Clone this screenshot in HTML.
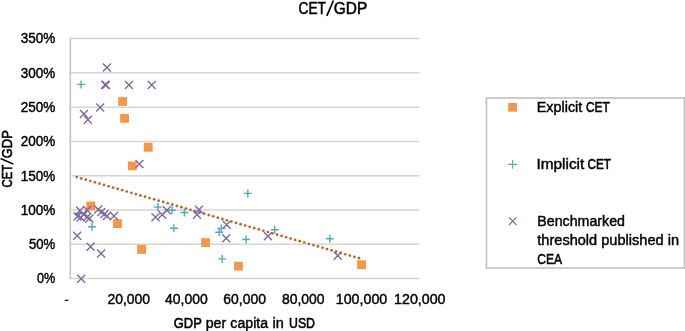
<!DOCTYPE html>
<html><head><meta charset="utf-8"><title>CET/GDP</title>
<style>
html,body{margin:0;padding:0;background:#fff;}
body{width:685px;height:331px;overflow:hidden;font-family:"Liberation Sans",sans-serif;}
svg{display:block;}
text{font-family:"Liberation Sans",sans-serif;fill:#000;stroke:#000;stroke-width:0.42px;}
svg{will-change:transform;}
</style></head><body>
<svg width="685" height="331" viewBox="0 0 685 331">
<rect x="0" y="0" width="685" height="331" fill="#ffffff"/>

<g stroke="#D6D6D6" stroke-width="1.5" fill="none">
<line x1="70.3" y1="38.60" x2="419.4" y2="38.60"/>
<line x1="70.3" y1="72.87" x2="419.4" y2="72.87"/>
<line x1="70.3" y1="107.14" x2="419.4" y2="107.14"/>
<line x1="70.3" y1="141.41" x2="419.4" y2="141.41"/>
<line x1="70.3" y1="175.69" x2="419.4" y2="175.69"/>
<line x1="70.3" y1="209.96" x2="419.4" y2="209.96"/>
<line x1="70.3" y1="244.23" x2="419.4" y2="244.23"/>
<line x1="70.3" y1="278.50" x2="419.4" y2="278.50"/>
</g>
<line x1="70.3" y1="37.85" x2="70.3" y2="279.25" stroke="#C4C4C4" stroke-width="1.6"/>
<g fill="#F79646">
<rect x="118.20" y="97.10" width="8.8" height="8.8"/>
<rect x="120.20" y="113.90" width="8.8" height="8.8"/>
<rect x="143.80" y="142.90" width="8.8" height="8.8"/>
<rect x="128.00" y="161.50" width="8.8" height="8.8"/>
<rect x="86.30" y="201.60" width="8.8" height="8.8"/>
<rect x="113.10" y="219.20" width="8.8" height="8.8"/>
<rect x="137.20" y="245.00" width="8.8" height="8.8"/>
<rect x="201.20" y="238.20" width="8.8" height="8.8"/>
<rect x="234.10" y="261.80" width="8.8" height="8.8"/>
<rect x="357.20" y="260.30" width="8.8" height="8.8"/>
</g>
<g fill="#C0601A">
<circle cx="76.70" cy="177.10" r="1.35"/>
<circle cx="81.25" cy="178.41" r="1.35"/>
<circle cx="85.80" cy="179.72" r="1.35"/>
<circle cx="90.36" cy="181.02" r="1.35"/>
<circle cx="94.91" cy="182.33" r="1.35"/>
<circle cx="99.46" cy="183.64" r="1.35"/>
<circle cx="104.01" cy="184.95" r="1.35"/>
<circle cx="108.56" cy="186.26" r="1.35"/>
<circle cx="113.12" cy="187.56" r="1.35"/>
<circle cx="117.67" cy="188.87" r="1.35"/>
<circle cx="122.22" cy="190.18" r="1.35"/>
<circle cx="126.77" cy="191.49" r="1.35"/>
<circle cx="131.32" cy="192.80" r="1.35"/>
<circle cx="135.88" cy="194.10" r="1.35"/>
<circle cx="140.43" cy="195.41" r="1.35"/>
<circle cx="144.98" cy="196.72" r="1.35"/>
<circle cx="149.53" cy="198.03" r="1.35"/>
<circle cx="154.08" cy="199.34" r="1.35"/>
<circle cx="158.64" cy="200.64" r="1.35"/>
<circle cx="163.19" cy="201.95" r="1.35"/>
<circle cx="167.74" cy="203.26" r="1.35"/>
<circle cx="172.29" cy="204.57" r="1.35"/>
<circle cx="176.84" cy="205.88" r="1.35"/>
<circle cx="181.40" cy="207.18" r="1.35"/>
<circle cx="185.95" cy="208.49" r="1.35"/>
<circle cx="190.50" cy="209.80" r="1.35"/>
<circle cx="195.05" cy="211.11" r="1.35"/>
<circle cx="199.60" cy="212.42" r="1.35"/>
<circle cx="204.16" cy="213.72" r="1.35"/>
<circle cx="208.71" cy="215.03" r="1.35"/>
<circle cx="213.26" cy="216.34" r="1.35"/>
<circle cx="217.81" cy="217.65" r="1.35"/>
<circle cx="222.36" cy="218.96" r="1.35"/>
<circle cx="226.92" cy="220.26" r="1.35"/>
<circle cx="231.47" cy="221.57" r="1.35"/>
<circle cx="236.02" cy="222.88" r="1.35"/>
<circle cx="240.57" cy="224.19" r="1.35"/>
<circle cx="245.12" cy="225.50" r="1.35"/>
<circle cx="249.68" cy="226.80" r="1.35"/>
<circle cx="254.23" cy="228.11" r="1.35"/>
<circle cx="258.78" cy="229.42" r="1.35"/>
<circle cx="263.33" cy="230.73" r="1.35"/>
<circle cx="267.88" cy="232.04" r="1.35"/>
<circle cx="272.44" cy="233.34" r="1.35"/>
<circle cx="276.99" cy="234.65" r="1.35"/>
<circle cx="281.54" cy="235.96" r="1.35"/>
<circle cx="286.09" cy="237.27" r="1.35"/>
<circle cx="290.64" cy="238.58" r="1.35"/>
<circle cx="295.20" cy="239.88" r="1.35"/>
<circle cx="299.75" cy="241.19" r="1.35"/>
<circle cx="304.30" cy="242.50" r="1.35"/>
<circle cx="308.85" cy="243.81" r="1.35"/>
<circle cx="313.40" cy="245.12" r="1.35"/>
<circle cx="317.96" cy="246.42" r="1.35"/>
<circle cx="322.51" cy="247.73" r="1.35"/>
<circle cx="327.06" cy="249.04" r="1.35"/>
<circle cx="331.61" cy="250.35" r="1.35"/>
<circle cx="336.16" cy="251.66" r="1.35"/>
<circle cx="340.72" cy="252.96" r="1.35"/>
<circle cx="345.27" cy="254.27" r="1.35"/>
<circle cx="349.82" cy="255.58" r="1.35"/>
<circle cx="354.37" cy="256.89" r="1.35"/>
<circle cx="358.92" cy="258.20" r="1.35"/>
</g>
<g stroke="#4BACC6" stroke-width="1.4" fill="none">
<path d="M77.10 84.40H85.10M81.10 80.40V88.40"/>
<path d="M75.10 213.40H83.10M79.10 209.40V217.40"/>
<path d="M88.10 226.70H96.10M92.10 222.70V230.70"/>
<path d="M153.80 207.10H161.80M157.80 203.10V211.10"/>
<path d="M168.10 210.20H176.10M172.10 206.20V214.20"/>
<path d="M180.40 212.50H188.40M184.40 208.50V216.50"/>
<path d="M169.90 228.20H177.90M173.90 224.20V232.20"/>
<path d="M217.30 228.40H225.30M221.30 224.40V232.40"/>
<path d="M215.20 232.20H223.20M219.20 228.20V236.20"/>
<path d="M218.20 258.90H226.20M222.20 254.90V262.90"/>
<path d="M242.10 239.50H250.10M246.10 235.50V243.50"/>
<path d="M243.80 193.40H251.80M247.80 189.40V197.40"/>
<path d="M270.70 229.80H278.70M274.70 225.80V233.80"/>
<path d="M325.80 238.70H333.80M329.80 234.70V242.70"/>
</g>
<g stroke="#8064A2" stroke-width="1.35" fill="none">
<path d="M102.90 63.50L110.90 71.50M102.90 71.50L110.90 63.50"/>
<path d="M101.20 80.70L109.20 88.70M101.20 88.70L109.20 80.70"/>
<path d="M101.90 81.00L109.90 89.00M101.90 89.00L109.90 81.00"/>
<path d="M124.90 81.00L132.90 89.00M124.90 89.00L132.90 81.00"/>
<path d="M147.70 81.00L155.70 89.00M147.70 89.00L155.70 81.00"/>
<path d="M96.20 103.50L104.20 111.50M96.20 111.50L104.20 103.50"/>
<path d="M79.90 110.00L87.90 118.00M79.90 118.00L87.90 110.00"/>
<path d="M83.90 115.80L91.90 123.80M83.90 123.80L91.90 115.80"/>
<path d="M135.40 159.90L143.40 167.90M135.40 167.90L143.40 159.90"/>
<path d="M73.50 212.50L81.50 220.50M73.50 220.50L81.50 212.50"/>
<path d="M76.00 206.60L84.00 214.60M76.00 214.60L84.00 206.60"/>
<path d="M83.00 206.10L91.00 214.10M83.00 214.10L91.00 206.10"/>
<path d="M83.10 213.10L91.10 221.10M83.10 221.10L91.10 213.10"/>
<path d="M76.60 213.60L84.60 221.60M76.60 221.60L84.60 213.60"/>
<path d="M79.80 210.60L87.80 218.60M79.80 218.60L87.80 210.60"/>
<path d="M85.40 214.40L93.40 222.40M85.40 222.40L93.40 214.40"/>
<path d="M94.20 205.60L102.20 213.60M94.20 213.60L102.20 205.60"/>
<path d="M97.30 208.10L105.30 216.10M97.30 216.10L105.30 208.10"/>
<path d="M100.50 210.00L108.50 218.00M100.50 218.00L108.50 210.00"/>
<path d="M103.00 212.00L111.00 220.00M103.00 220.00L111.00 212.00"/>
<path d="M110.00 212.00L118.00 220.00M110.00 220.00L118.00 212.00"/>
<path d="M151.50 213.20L159.50 221.20M151.50 221.20L159.50 213.20"/>
<path d="M158.20 210.70L166.20 218.70M158.20 218.70L166.20 210.70"/>
<path d="M162.90 206.20L170.90 214.20M162.90 214.20L170.90 206.20"/>
<path d="M195.00 205.80L203.00 213.80M195.00 213.80L203.00 205.80"/>
<path d="M193.10 210.70L201.10 218.70M193.10 218.70L201.10 210.70"/>
<path d="M222.60 220.70L230.60 228.70M222.60 228.70L230.60 220.70"/>
<path d="M222.20 234.20L230.20 242.20M222.20 242.20L230.20 234.20"/>
<path d="M263.90 232.30L271.90 240.30M263.90 240.30L271.90 232.30"/>
<path d="M333.80 251.70L341.80 259.70M333.80 259.70L341.80 251.70"/>
<path d="M73.20 231.80L81.20 239.80M73.20 239.80L81.20 231.80"/>
<path d="M86.60 242.80L94.60 250.80M86.60 250.80L94.60 242.80"/>
<path d="M97.10 249.60L105.10 257.60M97.10 257.60L105.10 249.60"/>
<path d="M77.20 274.80L85.20 282.80M77.20 282.80L85.20 274.80"/>
</g>
<text x="298.6" y="13.5" font-size="16.2" text-anchor="start" textLength="27.2" lengthAdjust="spacingAndGlyphs" style="stroke-width:0.62px">CET</text>
<line x1="326.8" y1="15.8" x2="333.5" y2="0.5" stroke="#000" stroke-width="1.7"/>
<text x="333.8" y="13.5" font-size="16.2" text-anchor="start" textLength="33.5" lengthAdjust="spacingAndGlyphs" style="stroke-width:0.55px">GDP</text>
<text x="20.699999999999996" y="43.45" font-size="14.0" text-anchor="start" textLength="34.6" lengthAdjust="spacingAndGlyphs">350%</text>
<text x="20.699999999999996" y="77.72" font-size="14.0" text-anchor="start" textLength="34.6" lengthAdjust="spacingAndGlyphs">300%</text>
<text x="20.699999999999996" y="111.99" font-size="14.0" text-anchor="start" textLength="34.6" lengthAdjust="spacingAndGlyphs">250%</text>
<text x="20.699999999999996" y="146.26" font-size="14.0" text-anchor="start" textLength="34.6" lengthAdjust="spacingAndGlyphs">200%</text>
<text x="20.699999999999996" y="180.54" font-size="14.0" text-anchor="start" textLength="34.6" lengthAdjust="spacingAndGlyphs">150%</text>
<text x="20.699999999999996" y="214.81" font-size="14.0" text-anchor="start" textLength="34.6" lengthAdjust="spacingAndGlyphs">100%</text>
<text x="28.9" y="249.08" font-size="14.0" text-anchor="start" textLength="26.4" lengthAdjust="spacingAndGlyphs">50%</text>
<text x="37.0" y="283.35" font-size="14.0" text-anchor="start" textLength="18.3" lengthAdjust="spacingAndGlyphs">0%</text>
<text x="107.5" y="304.2" font-size="14.0" text-anchor="start" textLength="42.6" lengthAdjust="spacingAndGlyphs">20,000</text>
<text x="165.1" y="304.2" font-size="14.0" text-anchor="start" textLength="42.6" lengthAdjust="spacingAndGlyphs">40,000</text>
<text x="223.3" y="304.2" font-size="14.0" text-anchor="start" textLength="42.6" lengthAdjust="spacingAndGlyphs">60,000</text>
<text x="281.9" y="304.2" font-size="14.0" text-anchor="start" textLength="42.6" lengthAdjust="spacingAndGlyphs">80,000</text>
<text x="335.75" y="304.2" font-size="14.0" text-anchor="start" textLength="51.5" lengthAdjust="spacingAndGlyphs">100,000</text>
<text x="394.05" y="304.2" font-size="14.0" text-anchor="start" textLength="51.5" lengthAdjust="spacingAndGlyphs">120,000</text>
<rect x="64.8" y="299.7" width="3.6" height="1.2" fill="#000"/>
<text x="173.8" y="328.4" font-size="14.0" text-anchor="start" textLength="28.0" lengthAdjust="spacingAndGlyphs" style="stroke-width:0.55px">GDP</text>
<text x="205.7" y="328.4" font-size="14.0" text-anchor="start" textLength="20.5" lengthAdjust="spacingAndGlyphs">per</text>
<text x="230.35" y="328.4" font-size="14.0" text-anchor="start" textLength="37.75" lengthAdjust="spacingAndGlyphs">capita</text>
<text x="272.6" y="328.4" font-size="14.0" text-anchor="start" textLength="11.3" lengthAdjust="spacingAndGlyphs">in</text>
<text x="289.0" y="328.4" font-size="14.0" text-anchor="start" textLength="26.0" lengthAdjust="spacingAndGlyphs" style="stroke-width:0.55px">USD</text>
<g transform="translate(11.5,187.1) rotate(-90)"><text x="-0.4" y="0" font-size="14.0" textLength="22.7" lengthAdjust="spacingAndGlyphs" style="stroke-width:0.58px">CET</text><line x1="23.0" y1="1.9" x2="28.6" y2="-10.9" stroke="#000" stroke-width="1.45"/><text x="28.9" y="0" font-size="14.0" textLength="28.0" lengthAdjust="spacingAndGlyphs" style="stroke-width:0.52px">GDP</text></g>
<rect x="486.4" y="98.0" width="198" height="170.0" fill="#fff" stroke="#C4C4C4" stroke-width="1.7"/>
<rect x="508.2" y="103" width="8.8" height="8.7" fill="#F79646"/>
<path d="M508.2 164.4H517M512.6 160V168.8" stroke="#4BACC6" stroke-width="1.1" fill="none"/>
<path d="M508.9 217.4L516.5 225M508.9 225L516.5 217.4" stroke="#8064A2" stroke-width="1.1" fill="none"/>
<text x="536.8" y="112.2" font-size="14.0" text-anchor="start" textLength="45.5" lengthAdjust="spacingAndGlyphs">Explicit</text>
<text x="585.9" y="112.2" font-size="14.0" text-anchor="start" textLength="23.85" lengthAdjust="spacingAndGlyphs" style="stroke-width:0.58px">CET</text>
<text x="536.5" y="168.8" font-size="14.0" text-anchor="start" textLength="47.8" lengthAdjust="spacingAndGlyphs">Implicit</text>
<text x="587.6" y="168.8" font-size="14.0" text-anchor="start" textLength="23.4" lengthAdjust="spacingAndGlyphs" style="stroke-width:0.58px">CET</text>
<text x="537.3" y="225.8" font-size="14.0" text-anchor="start" textLength="87.7" lengthAdjust="spacingAndGlyphs">Benchmarked</text>
<text x="537.3" y="244.7" font-size="14.0" text-anchor="start" textLength="141.7" lengthAdjust="spacingAndGlyphs">threshold published in</text>
<text x="537.3" y="263.9" font-size="14.0" text-anchor="start" textLength="24.8" lengthAdjust="spacingAndGlyphs" style="stroke-width:0.55px">CEA</text>
</svg></body></html>
